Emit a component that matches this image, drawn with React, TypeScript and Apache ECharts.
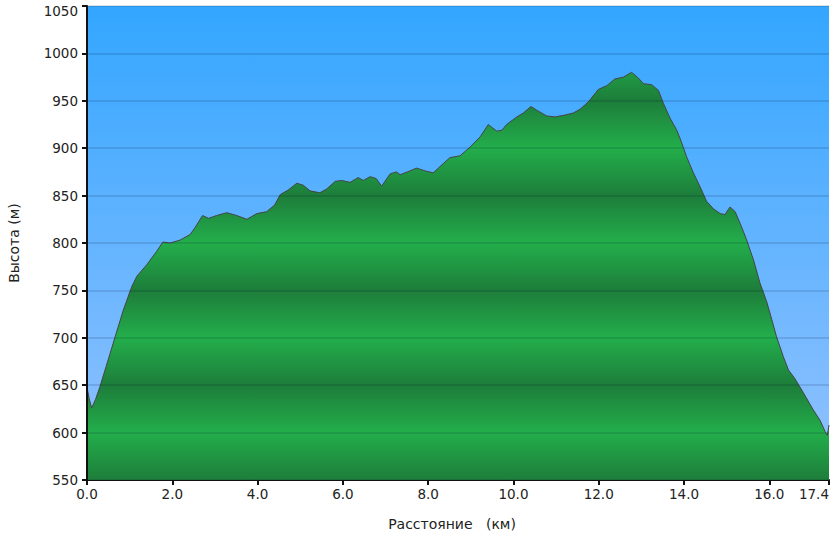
import React, { useEffect, useRef } from "react";
import * as echarts from "echarts";

const distanceKm = [
  0.0, 0.05, 0.11, 0.2, 0.3, 0.45, 0.66, 0.85, 1.05, 1.17, 1.4, 1.63, 1.78, 1.95,
  2.18, 2.42, 2.53, 2.71, 2.85, 3.04, 3.28, 3.51, 3.75, 3.98, 4.21, 4.4, 4.53,
  4.72, 4.92, 5.07, 5.23, 5.46, 5.62, 5.82, 5.97, 6.17, 6.36, 6.48, 6.64, 6.78,
  6.91, 7.11, 7.26, 7.34, 7.57, 7.73, 7.93, 8.12, 8.36, 8.51, 8.75, 8.98, 9.22,
  9.41, 9.61, 9.73, 9.84, 10.08, 10.23, 10.41, 10.55, 10.78, 10.98, 11.21, 11.4,
  11.56, 11.76, 11.99, 12.19, 12.38, 12.58, 12.77, 12.93, 13.05, 13.24, 13.4,
  13.52, 13.67, 13.83, 13.91, 14.06, 14.22, 14.38, 14.53, 14.69, 14.85, 14.96,
  15.08, 15.2, 15.35, 15.47, 15.63, 15.78, 15.94, 16.06, 16.17, 16.33, 16.45,
  16.6, 16.8, 17.03, 17.19, 17.31, 17.36, 17.4,
];

const elevationM = [
  648, 636, 626, 635, 648, 670, 701, 729, 754, 765, 777, 791, 801, 800,
  803, 809, 816, 829, 826, 829, 832, 829, 825, 831, 833, 840, 851,
  856, 863, 861, 855, 853, 857, 865, 866, 864, 869, 866, 870, 868,
  860, 873, 875, 872, 876, 879, 876, 874, 884, 890, 892, 901, 912,
  925, 918, 919, 925, 933, 937, 944, 940, 934, 933, 935, 937,
  941, 949, 962, 966, 973, 975, 980, 974, 968, 967, 961,
  947, 932, 919, 910, 891, 874, 859, 844, 836, 831, 830,
  838, 833, 817, 803, 782, 758, 738, 719, 701, 680, 666,
  657, 642, 624, 613, 601, 597, 608,
];

const yMin = 550;
const yMax = 1050;
const yStep = 50;
const xMin = 0;
const xMax = 17.4;
const xStep = 2;

const yTitle = "Высота (м)";
const xTitle = "Расстояние   (км)";

export default function App() {
  const ref = useRef<HTMLDivElement>(null);

  useEffect(() => {
    if (!ref.current) return;
    const chart = echarts.init(ref.current, undefined, { renderer: "svg" });

    const gridTop = 6;
    const gridBottom = 55;
    const height = 535;
    const plotTopPx = gridTop;
    const plotBottomPx = height - gridBottom;

    // repeating green bands: dark at 550,650,...; light at 600,700,...
    const dark = "#1d7d3a";
    const light = "#23ae4b";
    const periods = (yMax - yMin) / (yStep * 2);
    const stops: { offset: number; color: string }[] = [];
    for (let i = 0; i <= periods * 2; i++) {
      stops.push({ offset: i / (periods * 2), color: i % 2 === 0 ? dark : light });
    }

    const data = distanceKm.map((d, i) => [d, elevationM[i]]);
    const labelFont = { fontFamily: "DejaVu Sans", fontSize: 13.5, color: "#222" };

    chart.setOption({
      animation: false,
      backgroundColor: "#ffffff",
      grid: {
        left: 87,
        right: 6,
        top: gridTop,
        bottom: gridBottom,
        outerBoundsMode: "none",
        containLabel: false,
        show: true,
        borderWidth: 0,
        backgroundColor: {
          type: "linear",
          x: 0,
          y: 0,
          x2: 0,
          y2: 1,
          colorStops: [
            { offset: 0, color: "#33a6ff" },
            { offset: 1, color: "#94c2ff" },
          ],
        },
      },
      xAxis: {
        type: "value",
        min: xMin,
        max: xMax,
        interval: xStep,
        name: xTitle,
        nameLocation: "middle",
        nameGap: 37,
        nameTextStyle: {
          fontFamily: "DejaVu Sans",
          fontSize: 14,
          color: "#222",
          padding: [0, 12, 0, 0],
        },
        axisLine: { show: true, onZero: false, lineStyle: { color: "#111", width: 2 } },
        axisTick: { show: true, inside: false, length: 5, lineStyle: { color: "#111", width: 2 } },
        axisLabel: {
          ...labelFont,
          margin: 7,
          alignMaxLabel: "right",
          formatter: (v: number) => v.toFixed(1),
        },
        splitLine: { show: false },
      },
      yAxis: {
        type: "value",
        min: yMin,
        max: yMax,
        interval: yStep,
        z: 5,
        name: yTitle,
        nameLocation: "middle",
        nameGap: 66,
        nameTextStyle: {
          fontFamily: "DejaVu Sans",
          fontSize: 14,
          color: "#222",
        },
        axisLine: { show: true, lineStyle: { color: "#111", width: 2 } },
        axisTick: { show: true, inside: false, length: 5, lineStyle: { color: "#111", width: 2 } },
        axisLabel: {
          ...labelFont,
          margin: 9,
          formatter: (v: number) => (v === yMax ? `{t|${v}}` : String(v)),
          rich: {
            t: { ...labelFont, padding: [9, 0, 0, 0] },
          },
        },
        splitLine: {
          show: true,
          lineStyle: { color: "rgba(0,15,45,0.17)", width: 1.5 },
        },
      },
      series: [
        {
          type: "line",
          data,
          symbol: "none",
          smooth: false,
          lineStyle: { color: "#454545", width: 1 },
          areaStyle: {
            origin: "start",
            opacity: 1,
            color: {
              type: "linear",
              x: 0,
              y: plotTopPx,
              x2: 0,
              y2: plotBottomPx,
              global: true,
              colorStops: stops,
            },
          },
        },
      ],
    });

    return () => chart.dispose();
  }, []);

  return (
    <div
      ref={ref}
      style={{ position: "fixed", left: 0, top: 0, width: 835, height: 535 }}
    />
  );
}
